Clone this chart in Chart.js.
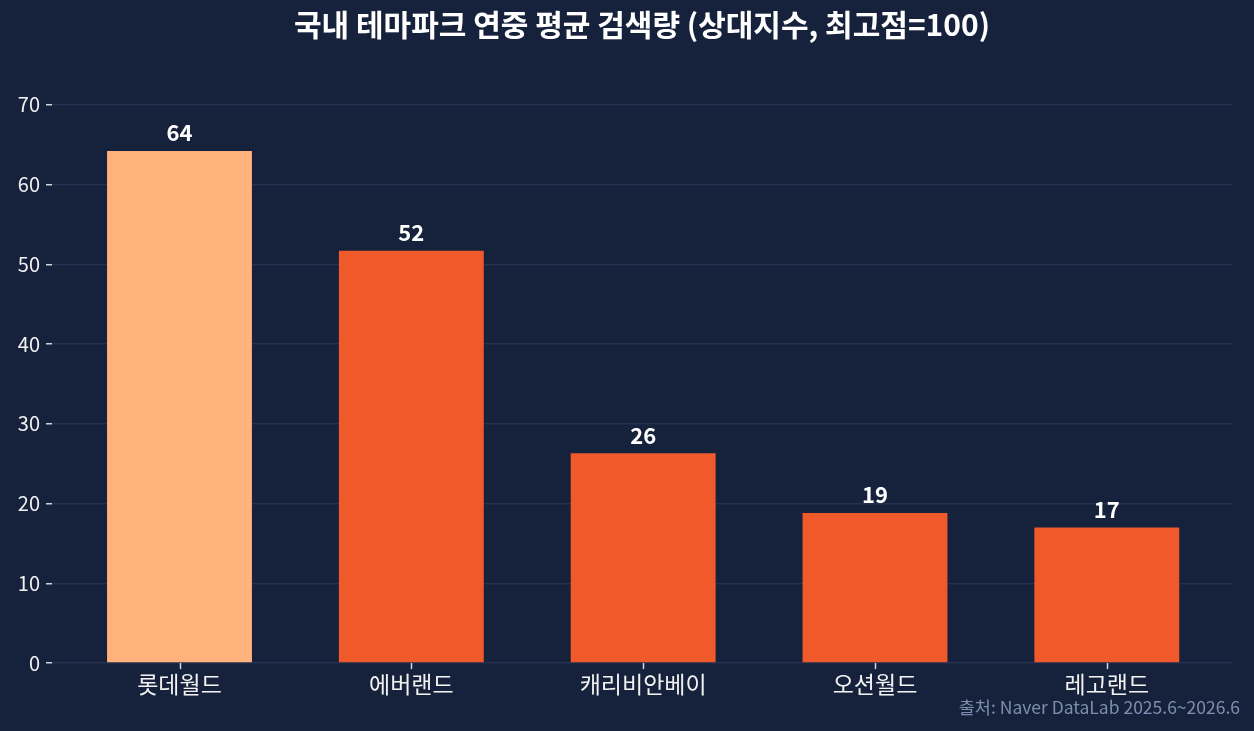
<!DOCTYPE html>
<html>
<head>
<meta charset="utf-8">
<script src="https://cdn.jsdelivr.net/npm/chart.js@4/dist/chart.umd.min.js"></script>
<style>
  html, body { margin: 0; padding: 0; background: #16213b; }
  #wrap { width: 1254px; height: 731px; }
</style>
</head>
<body>
<div id="wrap"><canvas id="chart"></canvas></div>
<script>
// data
const parks = ["롯데월드", "에버랜드", "캐리비안베이", "오션월드", "레고랜드"];
const searchAvg = [64.2, 51.7, 26.3, 18.8, 17.0];
const valueLabels = ["64", "52", "26", "19", "17"];
const barColors = ["#ffb27b", "#f05a2b", "#f05a2b", "#f05a2b", "#f05a2b"];

const titleText = "국내 테마파크 연중 평균 검색량 (상대지수, 최고점=100)";
const sourceText = "출처: Naver DataLab 2025.6~2026.6";

const FONT = "'Noto Sans CJK KR', 'Noto Sans', sans-serif";

// draws title, x tick marks, value labels and the source note
const extras = {
  id: "extras",
  afterDraw(chart) {
    const ctx = chart.ctx;
    const area = chart.chartArea;
    const xScale = chart.scales.x;
    ctx.save();

    // small tick marks under each bar
    ctx.strokeStyle = "#d0d4dc";
    ctx.lineWidth = 1.5;
    parks.forEach((p, i) => {
      const x = Math.round(xScale.getPixelForValue(i)) + 0.5;
      ctx.beginPath();
      ctx.moveTo(x, area.bottom);
      ctx.lineTo(x, area.bottom + 6);
      ctx.stroke();
    });

    ctx.fillStyle = "#ffffff";
    ctx.font = "bold 30px " + FONT;
    ctx.textAlign = "center";
    ctx.textBaseline = "middle";
    ctx.fillText(titleText, (area.left + area.right) / 2, 25);

    const meta = chart.getDatasetMeta(0);
    ctx.font = "bold 22px " + FONT;
    ctx.textBaseline = "bottom";
    meta.data.forEach((bar, i) => {
      ctx.fillText(valueLabels[i], bar.x, bar.y - 7);
    });

    ctx.fillStyle = "#7d8fb0";
    ctx.font = "17.5px " + FONT;
    ctx.textAlign = "right";
    ctx.textBaseline = "middle";
    ctx.fillText(sourceText, 1240, 707);
    ctx.restore();
  }
};

new Chart(document.getElementById("chart"), {
  type: "bar",
  data: {
    datasets: [{
      data: searchAvg.map((v, i) => ({ x: i, y: v })),
      backgroundColor: barColors,
      borderWidth: 0,
      barPercentage: 0.625,
      categoryPercentage: 1.0
    }]
  },
  options: {
    responsive: true,
    maintainAspectRatio: false,
    animation: false,
    layout: { padding: { top: 65, right: 22, left: 0, bottom: 0 } },
    plugins: {
      legend: { display: false },
      tooltip: { enabled: false }
    },
    scales: {
      x: {
        type: "linear",
        min: -0.55,
        max: 4.54,
        offset: false,
        border: { display: false },
        grid: { color: "transparent", drawTicks: true, tickLength: 6, tickColor: "transparent" },
        ticks: {
          color: "#f2f2f2",
          font: { family: FONT, size: 23 },
          padding: 1,
          callback: v => parks[v]
        },
        afterBuildTicks(scale) {
          scale.ticks = parks.map((p, i) => ({ value: i }));
        },
        afterFit(scale) { scale.height = 68; }
      },
      y: {
        min: 0,
        max: 75,
        border: { display: false },
        grid: { color: "#243151", lineWidth: 1.5, tickColor: "#d0d4dc", tickLength: 6 },
        ticks: { stepSize: 10, color: "#f2f2f2", font: { family: FONT, size: 20 }, padding: 6 },
        afterBuildTicks(scale) {
          scale.ticks = scale.ticks.filter(t => t.value % 10 === 0);
        },
        afterFit(scale) { scale.width = 52; }
      }
    }
  },
  plugins: [extras]
});
</script>
</body>
</html>
